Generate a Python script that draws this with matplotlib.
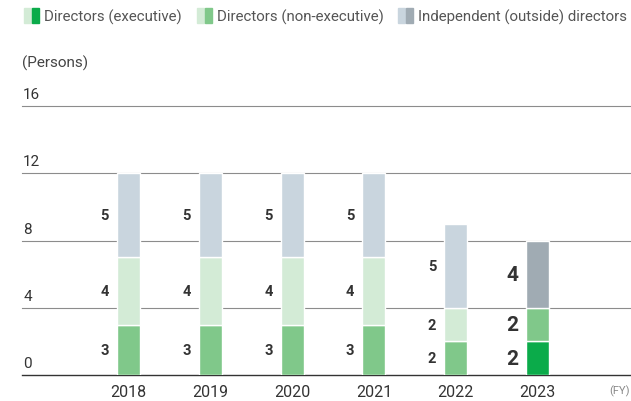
import numpy as np
import matplotlib
matplotlib.use("Agg")
import matplotlib.pyplot as plt
from matplotlib.patches import Rectangle

plt.rcParams["font.family"] = ["Roboto", "DejaVu Sans"]

years = ["2018", "2019", "2020", "2021", "2022", "2023"]
executive = [3, 3, 3, 3, 2, 2]
non_executive = [4, 4, 4, 4, 2, 2]
independent = [5, 5, 5, 5, 5, 4]
legend_labels = ["Directors (executive)", "Directors (non-executive)",
                 "Independent (outside) directors"]
yticks = [0, 4, 8, 12, 16]

# colours: past years pale, latest year highlighted
past = ["#80c88a", "#d3ebd6", "#c9d5de"]
latest = ["#0bab4a", "#80c88a", "#a0abb3"]

W, H = 631, 402
fig = plt.figure(figsize=(W / 100, H / 100), dpi=100)

# axes: 0 at y=376px, 16 at y=107px, left edge 22px
ax = fig.add_axes([22 / W, (H - 376) / H, 1 - 22 / W, (376 - 107) / H])
ax.set_ylim(0, 16)
step = 81.8
x0 = 128.5
ax.set_xlim((22 - x0) / step, (W - x0) / step)
for s in ax.spines.values():
    s.set_visible(False)
ax.set_xticks([]); ax.set_yticks([])

# gridlines behind bars, tick labels sit on top of each line
for v in yticks:
    ax.axhline(v, color="#333333" if v == 0 else "#8c8c8c",
               lw=1.0 if v == 0 else 0.8, zorder=0, clip_on=False)
    ax.text(0.002, v + 0.7, str(v), transform=ax.get_yaxis_transform(),
            ha="left", va="center", fontsize=11, color="#333333")

x = np.arange(len(years))
bw = 23 / step
segs = [executive, non_executive, independent]
for i in range(len(years)):
    big = i == len(years) - 1
    cols = latest if big else past
    bottom = 0
    for k, vals in enumerate(segs):
        ax.bar(x[i], vals[i], bw, bottom=bottom, color=cols[k],
               edgecolor="white", linewidth=1.0, zorder=2)
        ax.text(x[i] - bw / 2 - 8 / step, bottom + vals[i] / 2, str(vals[i]),
                ha="right", va="center", fontweight="bold",
                fontsize=15 if big else 10.5, color="#333333")
        bottom += vals[i]
    ax.text(x[i], -1.0, years[i], ha="center", va="center",
            fontsize=11.5, color="#333333")

ax.text((620 - x0) / step, -0.9, "(FY)", ha="center", va="center",
        fontsize=8, color="#888888")

fig.text(22 / W, 1 - 63 / H, "(Persons)", ha="left", va="center",
         fontsize=11, color="#444444")

# legend: each key is a pale/dark pair of small blocks
leg_x = [24, 197, 398]
pairs = [("#d3ebd6", "#0bab4a"), ("#d3ebd6", "#80c88a"), ("#c9d5de", "#a0abb3")]
for lx, (c1, c2), lab in zip(leg_x, pairs, legend_labels):
    fig.patches.append(Rectangle((lx / W, 1 - 24 / H), 7 / W, 15 / H,
                                 transform=fig.transFigure, color=c1))
    fig.patches.append(Rectangle(((lx + 8) / W, 1 - 24 / H), 7 / W, 15 / H,
                                 transform=fig.transFigure, color=c2))
    fig.text((lx + 20) / W, 1 - 17 / H, lab, ha="left", va="center",
             fontsize=10.8, color="#555555")

fig.savefig("out.png", dpi=100)
